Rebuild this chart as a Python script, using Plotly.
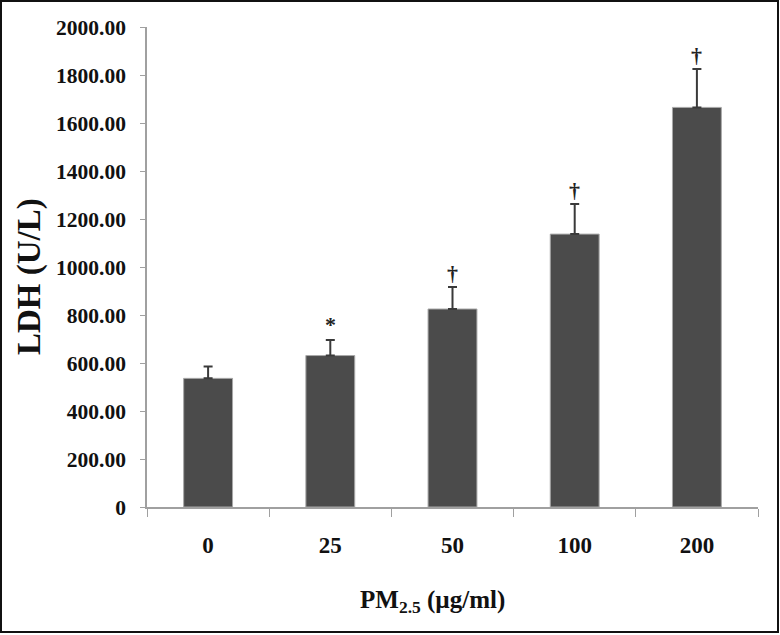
import plotly.graph_objects as go

categories = ["0", "25", "50", "100", "200"]
ldh_means = [536, 631, 825, 1137, 1665]
ldh_errors = [49, 65, 92, 125, 160]
markers = ["", "*", "†", "†", "†"]
y_ticks = [0, 200, 400, 600, 800, 1000, 1200, 1400, 1600, 1800, 2000]
y_tick_labels = ["0"] + [f"{v:.2f}" for v in y_ticks[1:]]

FONT = "Liberation Serif"

fig = go.Figure()
fig.add_trace(go.Bar(
    x=categories, y=ldh_means,
    marker=dict(color="#4b4b4b", line=dict(color="#a8a8a8", width=1)),
    error_y=dict(type="data", array=ldh_errors, arrayminus=[0]*5, symmetric=False,
                 color="#3a3a3a", thickness=2, width=4.5),
    width=0.4,
))

for i, (m, e, s) in enumerate(zip(ldh_means, ldh_errors, markers)):
    if s:
        fig.add_annotation(x=i, y=m + e, text=f"<b>{s}</b>", showarrow=False,
                           yanchor="bottom", yshift=1 if s == "*" else -1,
                           font=dict(family=FONT, size=22, color="#222"))

W, H = 780, 635
ml, mr, mt, mb = 147, 22, 27, 128
pw, ph = W - ml - mr, H - mt - mb

# axis titles placed as paper annotations
fig.add_annotation(xref="paper", yref="paper", x=(432 - ml) / pw, y=-(601 - (H - mb)) / ph,
                   text="<b>PM<sub>2.5</sub> (µg/ml)</b>", showarrow=False,
                   xanchor="center", yanchor="middle",
                   font=dict(family=FONT, size=25, color="#111"))
fig.add_annotation(xref="paper", yref="paper", x=-(ml - 29) / pw, y=((H - mb) - 277) / ph,
                   text="<b>LDH (U/L)</b>", showarrow=False, textangle=-90,
                   xanchor="center", yanchor="middle",
                   font=dict(family=FONT, size=33, color="#111"))

fig.add_shape(type="rect", xref="paper", yref="paper",
              x0=-(ml - 1) / pw, x1=1 + (mr - 2) / pw,
              y0=-(mb - 3) / ph, y1=1 + (mt - 1) / ph,
              line=dict(color="#111", width=2))

fig.update_layout(
    width=W, height=H,
    margin=dict(l=ml, r=mr, t=mt, b=mb),
    plot_bgcolor="white", paper_bgcolor="white",
    showlegend=False,
    font=dict(family=FONT, color="#111"),
    xaxis=dict(
        type="category", range=[-0.5, len(categories) - 0.5], automargin=False,
        tickvals=categories, ticktext=[f"<b>{c}</b>" for c in categories],
        showline=True, linecolor="#a0a0a0", linewidth=1.5,
        ticks="outside", tickcolor="#a0a0a0", ticklen=8, tickson="boundaries",
        tickfont=dict(family=FONT, size=23, color="#111"),
        ticklabelstandoff=17,
    ),
    yaxis=dict(
        range=[0, 2000], automargin=False,
        tickvals=y_ticks, ticktext=[f"<b>{t}</b>" for t in y_tick_labels],
        showline=True, linecolor="#a0a0a0", linewidth=1.5,
        ticks="outside", tickcolor="#a0a0a0", ticklen=5,
        showgrid=False, zeroline=False,
        tickfont=dict(family=FONT, size=21.5, color="#111"),
        ticklabelstandoff=10,
    ),
)

fig.write_html("out.html", config={"displayModeBar": False},
               post_script="document.body.style.margin='0px';document.body.style.overflow='hidden';")
